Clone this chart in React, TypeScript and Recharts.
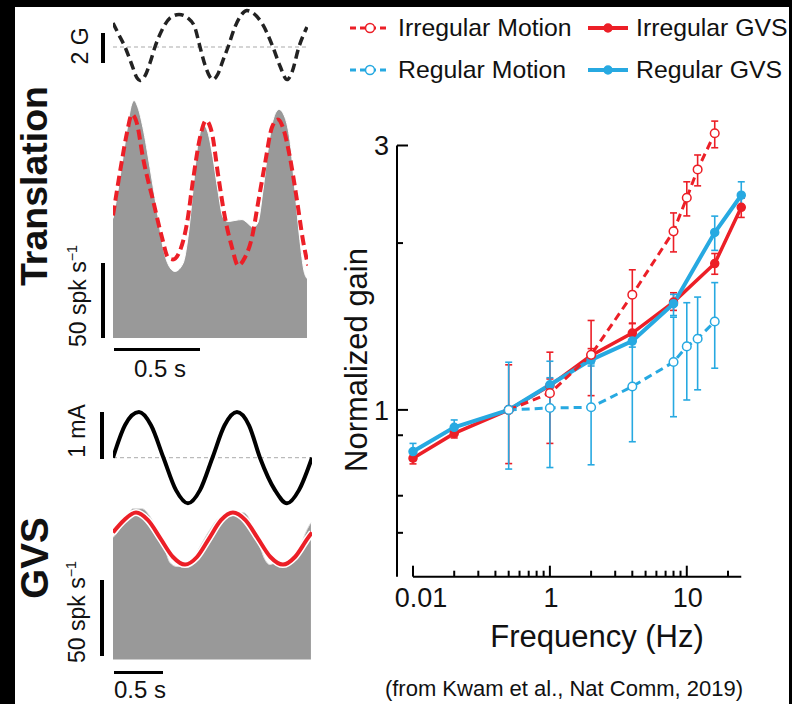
import React from "react";
import {
  ComposedChart,
  LineChart,
  Line,
  Area,
  XAxis,
  YAxis,
  ErrorBar,
  ReferenceLine,
} from "recharts";

const FONT = '"Liberation Sans", Arial, Helvetica, sans-serif';
const RED = "#ec1f27";
const BLUE = "#27a9e1";
const GRAY = "#999999";

// ---------------- Right panel: normalized gain vs frequency ----------------
const gvsFreq = [0.1, 0.2, 0.5, 1, 2, 4, 8, 16, 25];
const irrGvsGain = [0.818, 0.907, 1.0, 1.106, 1.254, 1.376, 1.565, 1.837, 2.32];
const irrGvsLow = [0.799, 0.89, 1.0, 1.08, 1.22, 1.326, 1.512, 1.757, 2.225];
const irrGvsHigh = [0.84, 0.925, 1.0, 1.137, 1.29, 1.434, 1.627, 1.915, 2.41];
const regGvsGain = [0.841, 0.93, 1.0, 1.11, 1.231, 1.331, 1.555, 2.09, 2.44];
const regGvsLow = [0.81, 0.899, 1.0, 1.08, 1.2, 1.298, 1.48, 1.94, 2.31];
const regGvsHigh = [0.87, 0.959, 1.0, 1.143, 1.26, 1.362, 1.616, 2.237, 2.58];

const motionFreq = [0.5, 1, 2, 4, 8, 10, 12, 16];
const irrMotionGain = [1.0, 1.072, 1.257, 1.614, 2.1, 2.414, 2.716, 3.156];
const irrMotionLow = [0.8, 0.87, 1.061, 1.431, 1.928, 2.239, 2.537, 2.972];
const irrMotionHigh = [1.206, 1.271, 1.45, 1.79, 2.267, 2.58, 2.884, 3.32];
const regMotionGain = [1.0, 1.008, 1.011, 1.102, 1.22, 1.302, 1.344, 1.444];
const regMotionLow = [0.782, 0.787, 0.796, 0.876, 0.972, 1.042, 1.087, 1.189];
const regMotionHigh = [1.219, 1.224, 1.211, 1.335, 1.47, 1.561, 1.598, 1.697];

const xMajorTicks = [0.1, 1, 10];
const xMajorLabels = ["0.01", "1", "10"];
const xMinorTicks = [0.2, 0.3, 0.4, 0.5, 0.6, 0.7, 0.8, 0.9, 2, 3, 4, 5, 6, 7, 8, 9, 20];
const yMajorTicks = [1, 3];
const yMajorLabels = ["1", "3"];
const yMinorTicks = [0.6, 0.7, 0.9, 2];

const legendItems = [
  { name: "Irregular Motion", color: RED, dashed: true },
  { name: "Irregular GVS", color: RED, dashed: false },
  { name: "Regular Motion", color: BLUE, dashed: true },
  { name: "Regular GVS", color: BLUE, dashed: false },
];

// ---------------- Left panels: example traces ----------------
// Translation stimulus (time s, acceleration G)
const transStimT = [0, 0.029, 0.07, 0.11, 0.14, 0.157, 0.186, 0.215, 0.244, 0.285, 0.331, 0.384, 0.436, 0.477, 0.506, 0.535, 0.564, 0.581, 0.61, 0.64, 0.669, 0.709, 0.75, 0.779, 0.814, 0.872, 0.93, 0.971, 1.012, 1.041, 1.081, 1.128];
const transStimG = [1.6, 0.93, 0, -1.2, -2.07, -2.23, -1.93, -1.07, 0, 1.13, 1.93, 2.17, 1.93, 1.27, 0, -1.2, -2.0, -2.17, -1.8, -0.87, 0, 1.33, 2.2, 2.43, 2.27, 1.47, 0, -1.27, -2.17, -1.67, 0, 1.33];
// Translation firing rate (spk/s)
const transRateT = [0, 0.029, 0.058, 0.087, 0.105, 0.122, 0.145, 0.174, 0.215, 0.256, 0.291, 0.331, 0.36, 0.407, 0.436, 0.465, 0.494, 0.529, 0.552, 0.581, 0.61, 0.64, 0.669, 0.709, 0.75, 0.785, 0.814, 0.843, 0.872, 0.901, 0.93, 0.965, 1.0, 1.029, 1.058, 1.087, 1.11, 1.128];
const transRate = [80, 98.7, 120.7, 143.3, 154.7, 158.7, 154, 140.7, 114, 85.3, 60.7, 47.3, 44.7, 50, 67.3, 98.7, 130, 142, 137.3, 120.7, 98.7, 80.7, 78, 78.7, 79.3, 76.7, 74, 77.3, 98.7, 125.3, 145.3, 152.7, 147.3, 132, 98.7, 65.3, 45.3, 40];
const transFitT = [0, 0.052, 0.081, 0.11, 0.14, 0.174, 0.233, 0.285, 0.32, 0.349, 0.39, 0.43, 0.465, 0.506, 0.541, 0.576, 0.61, 0.651, 0.692, 0.727, 0.767, 0.808, 0.843, 0.884, 0.924, 0.959, 0.988, 1.029, 1.07, 1.105, 1.134];
const transFit = [82, 118.7, 137, 149.3, 143, 120.7, 92, 67.3, 54, 52.7, 58.7, 76.7, 105.3, 134, 145.3, 136.7, 110, 80.7, 60.7, 48.7, 54, 67.3, 90, 116.7, 140.7, 146, 140.7, 120.7, 92, 65.3, 48.7];

// GVS stimulus (time s, current mA)
const gvsStimT = [0, 0.122, 0.265, 0.388, 0.515, 0.643, 0.765, 0.888, 1.015, 1.139, 1.265, 1.388, 1.5, 1.653, 1.776, 1.898, 2.031];
const gvsStimMA = [0, 0.69, 0.97, 0.69, 0, -0.69, -0.97, -0.69, 0, 0.69, 0.97, 0.69, 0, -0.69, -0.97, -0.69, 0];
// GVS firing rate (spk/s)
const gvsRateT = [0, 0.051, 0.143, 0.204, 0.296, 0.378, 0.459, 0.531, 0.582, 0.653, 0.765, 0.816, 0.888, 0.99, 1.092, 1.173, 1.265, 1.327, 1.378, 1.429, 1.5, 1.551, 1.602, 1.684, 1.755, 1.827, 1.908, 1.98, 2.02];
const gvsRate = [80.3, 84.2, 94.1, 99.3, 99.3, 94.1, 83.6, 72.4, 63.8, 61.2, 61.2, 65.8, 74.3, 85.5, 93.4, 94.1, 95.4, 96.7, 94.1, 85.5, 74.3, 65.8, 62.5, 64.5, 63.8, 65.8, 74.3, 85.5, 90.1];
const gvsFitT = [0, 0.112, 0.235, 0.357, 0.485, 0.612, 0.735, 0.857, 0.98, 1.102, 1.224, 1.352, 1.48, 1.607, 1.735, 1.857, 1.985, 2.031];
const gvsFit = [83.6, 91.7, 96.7, 91.7, 79.6, 67.5, 62.5, 67.5, 79.6, 91.7, 96.7, 91.7, 79.6, 67.5, 62.5, 67.5, 79.6, 83.6];

// ---------------- helpers ----------------
const mkGain = (freq: number[], gain: number[], lo: number[], hi: number[]) =>
  freq.map((f, i) => ({ f, g: gain[i], err: [gain[i] - lo[i], hi[i] - gain[i]] }));
const mkTrace = (t: number[], v: number[]) => t.map((tt, i) => ({ t: tt, v: v[i] }));

const irrGvsData = mkGain(gvsFreq, irrGvsGain, irrGvsLow, irrGvsHigh);
const regGvsData = mkGain(gvsFreq, regGvsGain, regGvsLow, regGvsHigh);
const irrMotionData = mkGain(motionFreq, irrMotionGain, irrMotionLow, irrMotionHigh);
const regMotionData = mkGain(motionFreq, regMotionGain, regMotionLow, regMotionHigh);

const transStimData = mkTrace(transStimT, transStimG);
const transRateData = mkTrace(transRateT, transRate);
const transFitData = mkTrace(transFitT, transFit);
const gvsStimData = mkTrace(gvsStimT, gvsStimMA);
const gvsRateData = mkTrace(gvsRateT, gvsRate);
const gvsFitData = mkTrace(gvsFitT, gvsFit);

const xTicks = [...xMajorTicks, ...xMinorTicks].sort((a, b) => a - b);
const yTicks = [...yMajorTicks, ...yMinorTicks].sort((a, b) => a - b);

function XTick(props: any) {
  const { x, y, payload } = props;
  const i = xMajorTicks.indexOf(payload.value);
  const major = i >= 0;
  return (
    <g>
      <line x1={x} y1={y} x2={x} y2={y - (major ? 11 : 6)} stroke="#000" strokeWidth={2} />
      {major && (
        <text x={x + (i === 0 ? 8 : 1)} y={y + 30} textAnchor="middle" fontFamily={FONT} fontSize={27} fill="#111">
          {xMajorLabels[i]}
        </text>
      )}
    </g>
  );
}

function YTick(props: any) {
  const { x, y, payload } = props;
  const i = yMajorTicks.indexOf(payload.value);
  const major = i >= 0;
  return (
    <g>
      <line x1={x} y1={y} x2={x + (major ? 11 : 6)} y2={y} stroke="#000" strokeWidth={2} />
      {major && (
        <text x={x - 8} y={y + 10} textAnchor="end" fontFamily={FONT} fontSize={27} fill="#111">
          {yMajorLabels[i]}
        </text>
      )}
    </g>
  );
}

const abs = (left: number, top: number, extra: React.CSSProperties = {}): React.CSSProperties => ({
  position: "absolute",
  left,
  top,
  ...extra,
});

function RotText({ cx, cy, size, bold, children }: any) {
  return (
    <div
      style={abs(cx, cy, {
        transform: "translate(-50%, -50%) rotate(-90deg)",
        fontSize: size,
        lineHeight: 1,
        fontWeight: bold ? "bold" : "normal",
        whiteSpace: "nowrap",
        color: "#111",
      })}
    >
      {children}
    </div>
  );
}

function Text({ x, top, size, anchor = "middle", children }: any) {
  return (
    <div
      style={abs(x, top, {
        transform: anchor === "middle" ? "translateX(-50%)" : "none",
        fontSize: size,
        lineHeight: 1,
        whiteSpace: "nowrap",
        color: "#111",
      })}
    >
      {children}
    </div>
  );
}

const Bar = ({ l, t, w, h }: any) => <div style={abs(l, t, { width: w, height: h, background: "#000" })} />;

const Sup = () => (
  <span style={{ fontSize: "0.62em", position: "relative", top: "-0.6em" }}>−1</span>
);

function LegendSymbol({ color, dashed }: any) {
  return (
    <svg width={40} height={16}>
      <line x1={0} y1={8} x2={40} y2={8} stroke={color} strokeWidth={dashed ? 3 : 4} strokeDasharray={dashed ? "6 4" : undefined} />
      <circle cx={20} cy={8} r={dashed ? 4.5 : 4} fill={dashed ? "#fff" : color} stroke={color} strokeWidth={1.5} />
    </svg>
  );
}

function GainLine({ data, color, dashed, width }: any) {
  return (
    <Line
      data={data}
      dataKey="g"
      type="linear"
      stroke={color}
      strokeWidth={width}
      strokeDasharray={dashed ? "8 5" : undefined}
      dot={{ r: dashed ? 4.3 : 4, fill: dashed ? "#fff" : color, stroke: color, strokeWidth: 1.5, strokeDasharray: "none" }}
      activeDot={false}
      isAnimationActive={false}
    >
      <ErrorBar dataKey="err" direction="y" width={3.5} stroke={color} strokeWidth={1.6} />
    </Line>
  );
}

export default function App() {
  const legendPos = [
    { l: 350, y: 28 },
    { l: 588, y: 28 },
    { l: 350, y: 70 },
    { l: 588, y: 70 },
  ];
  return (
    <div style={abs(0, 0, { width: 792, height: 704, background: "#000", overflow: "hidden", fontFamily: FONT })}>
      <div style={abs(15, 7, { width: 774, height: 697, background: "#fff" })} />

      {/* Translation stimulus */}
      <div style={abs(113, 2)}>
        <ComposedChart width={195.2} height={90} margin={{ top: 0, right: 0, bottom: 0, left: 0 }}>
          <XAxis type="number" dataKey="t" domain={[0, 1.135]} hide />
          <YAxis type="number" domain={[-3, 3]} hide />
          <ReferenceLine y={0} stroke="#aaa" strokeWidth={1} strokeDasharray="4 3" />
          <Line data={transStimData} dataKey="v" type="monotone" stroke="#222" strokeWidth={3.5} strokeDasharray="9 5" dot={false} activeDot={false} isAnimationActive={false} />
        </ComposedChart>
      </div>

      {/* Translation firing rate */}
      <div style={abs(113, 90.5)}>
        <ComposedChart width={195.2} height={247.5} margin={{ top: 0, right: 0, bottom: 0, left: 0 }}>
          <XAxis type="number" dataKey="t" domain={[0, 1.135]} hide />
          <YAxis type="number" domain={[0, 165]} hide />
          <Area data={transRateData} dataKey="v" type="monotone" fill={GRAY} fillOpacity={1} stroke="#fff" strokeWidth={1} activeDot={false} isAnimationActive={false} />
          <Line data={transFitData} dataKey="v" type="monotone" stroke={RED} strokeWidth={4} strokeDasharray="10 5" dot={false} activeDot={false} isAnimationActive={false} />
        </ComposedChart>
      </div>

      {/* GVS stimulus */}
      <div style={abs(113, 405.8)}>
        <ComposedChart width={199.4} height={103.4} margin={{ top: 0, right: 0, bottom: 0, left: 0 }}>
          <XAxis type="number" dataKey="t" domain={[0, 2.035]} hide />
          <YAxis type="number" domain={[-1.1, 1.1]} hide />
          <ReferenceLine y={0} stroke="#aaa" strokeWidth={1} strokeDasharray="4 3" />
          <Line data={gvsStimData} dataKey="v" type="monotone" stroke="#000" strokeWidth={4} dot={false} activeDot={false} isAnimationActive={false} />
        </ComposedChart>
      </div>

      {/* GVS firing rate */}
      <div style={abs(113, 500.4)}>
        <ComposedChart width={199.4} height={159.6} margin={{ top: 0, right: 0, bottom: 0, left: 0 }}>
          <XAxis type="number" dataKey="t" domain={[0, 2.035]} hide />
          <YAxis type="number" domain={[0, 105]} hide />
          <Area data={gvsRateData} dataKey="v" type="monotone" fill={GRAY} fillOpacity={1} stroke="#ddd" strokeWidth={1} activeDot={false} isAnimationActive={false} />
          <Line data={gvsFitData} dataKey="v" type="monotone" stroke="#fff" strokeWidth={7} dot={false} activeDot={false} isAnimationActive={false} />
          <Line data={gvsFitData} dataKey="v" type="monotone" stroke={RED} strokeWidth={4} dot={false} activeDot={false} isAnimationActive={false} />
        </ComposedChart>
      </div>

      {/* Scale bars */}
      <Bar l={101} t={33} w={4} h={30} />
      <Bar l={101} t={263} w={4} h={75} />
      <Bar l={114} t={347.5} w={86} h={3.5} />
      <Bar l={100} t={412} w={4} h={47} />
      <Bar l={100} t={580} w={4} h={76} />
      <Bar l={114} t={670.5} w={49} h={3.5} />

      <RotText cx={80} cy={46} size={23}>2 G</RotText>
      <RotText cx={78} cy={296} size={23}>
        50 spk s<Sup />
      </RotText>
      <Text x={160} top={356.5} size={24}>0.5 s</Text>
      <RotText cx={77} cy={431} size={23}>1 mA</RotText>
      <RotText cx={77} cy={612} size={23}>
        50 spk s<Sup />
      </RotText>
      <Text x={114} top={678} size={24} anchor="start">0.5 s</Text>

      <RotText cx={35} cy={186} size={37.5} bold>Translation</RotText>
      <RotText cx={35} cy={558} size={38.5} bold>GVS</RotText>

      {/* Gain chart */}
      <div style={abs(330, 0)}>
        <LineChart width={440} height={625} margin={{ top: 108.4, right: 22, bottom: 0, left: 0 }}>
          <XAxis
            type="number"
            dataKey="f"
            scale="log"
            domain={[0.0764, 28]}
            allowDataOverflow
            ticks={xTicks}
            interval={0}
            tick={(p: any) => <XTick {...p} />}
            tickLine={false}
            axisLine={false}
            tickSize={0}
            tickMargin={0}
            height={48.3}
          />
          <YAxis
            type="number"
            scale="log"
            domain={[0.5, 3.5]}
            allowDataOverflow
            ticks={yTicks}
            interval={0}
            tick={(p: any) => <YTick {...p} />}
            tickLine={false}
            axisLine={false}
            tickSize={0}
            tickMargin={0}
            width={67}
          />
          <ReferenceLine segment={[{ x: 0.0764, y: 0.5 }, { x: 0.0764, y: 3 }]} stroke="#000" strokeWidth={2} />
          <ReferenceLine segment={[{ x: 0.1, y: 0.5 }, { x: 25, y: 0.5 }]} stroke="#000" strokeWidth={2} />
          {GainLine({ data: irrGvsData, color: RED, dashed: false, width: 3.5 })}
          {GainLine({ data: regGvsData, color: BLUE, dashed: false, width: 4 })}
          {GainLine({ data: irrMotionData, color: RED, dashed: true, width: 3 })}
          {GainLine({ data: regMotionData, color: BLUE, dashed: true, width: 3 })}
        </LineChart>
      </div>

      {/* Legend */}
      {legendItems.map((it, i) => (
        <React.Fragment key={it.name}>
          <div style={abs(legendPos[i].l, legendPos[i].y - 8)}>
            <LegendSymbol color={it.color} dashed={it.dashed} />
          </div>
          <Text x={legendPos[i].l + 48} top={legendPos[i].y - 12} size={24.8} anchor="start">
            {it.name}
          </Text>
        </React.Fragment>
      ))}

      <RotText cx={356} cy={360} size={31}>Normalized gain</RotText>
      <Text x={597} top={620.5} size={31}>Frequency (Hz)</Text>
      <Text x={564} top={678.4} size={22}>(from Kwam et al., Nat Comm, 2019)</Text>
    </div>
  );
}
